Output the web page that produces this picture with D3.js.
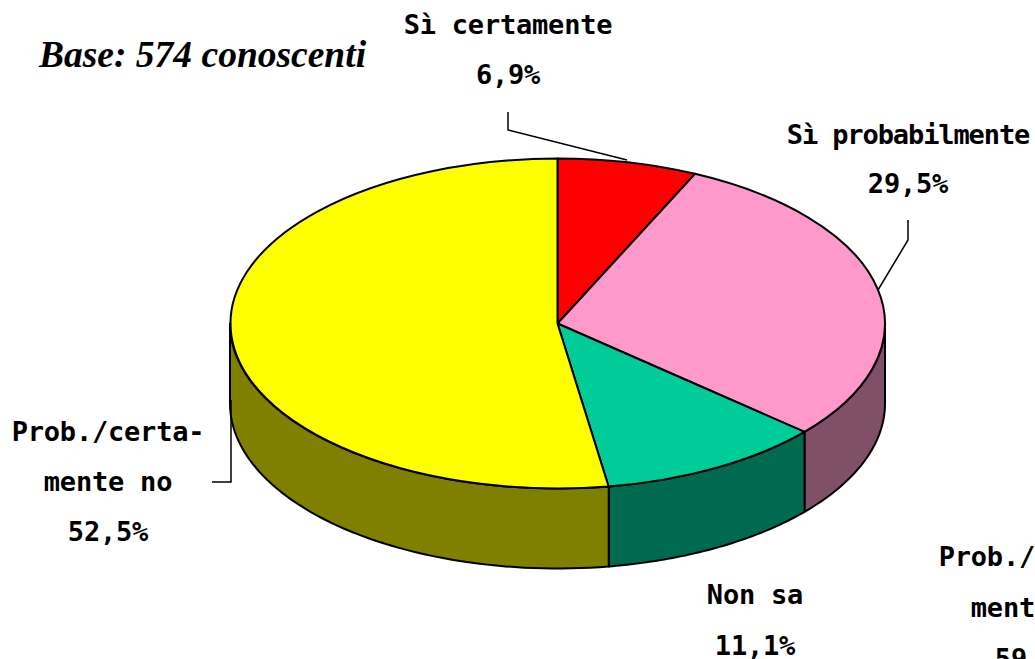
<!DOCTYPE html>
<html><head><meta charset="utf-8">
<script src="https://cdn.jsdelivr.net/npm/d3@7"></script>
<style>html,body{margin:0;padding:0;background:#fff;overflow:hidden}
text{font-family:"DejaVu Sans Mono",monospace;font-weight:700;font-size:27px;letter-spacing:-0.2px;fill:#000;text-anchor:middle}
</style></head><body><svg id="c" width="1035" height="659"></svg>
<script>
const categories=["Sì certamente","Sì probabilmente","Non sa","Prob./certamente no"];
const values=[6.9,29.5,11.1,52.5];
const topColors=["#ff0000","#ff99cc","#00cc99","#ffff00"];
const sideColors=["#800000","#804f68","#006a50","#808000"];
const labels=[
 {lines:["Sì certamente","6,9%"],x:508,y:[34,84]},
 {lines:["Sì probabilmente","29,5%"],x:908,y:[144,193],tight:[true,false]},
 {lines:["Non sa","11,1%"],x:755,y:[604,655]},
 {lines:["Prob./certa-","mente no","52,5%"],x:108,y:[441,491,541]},
 {lines:["Prob./certa-","mente no","59,0%"],x:1035,y:[566,617,668]}
];
const leaders=[
 [[508,112],[508,130],[627,160]],
 [[908,220],[908,240],[878,290]],
 [[212,482],[231,482],[231,400]]
];
const cx=557.5,cy=323.5,rx=327.5,ry=165,depth=80;
const svg=d3.select("#c");
const pts=d3.pie().sort(null).value(d=>d)(values);
const px=a=>cx+rx*Math.sin(a), py=a=>cy-ry*Math.cos(a);
const line=d3.line();
pts.forEach((p,i)=>{
  const a0=Math.max(p.startAngle,Math.PI/2), a1=Math.min(p.endAngle,Math.PI*1.5);
  if(a1<=a0) return;
  const n=60, s=d3.scaleLinear().domain([0,n]).range([a0,a1]);
  const t=d3.range(n+1).map(s);
  const poly=t.map(a=>[px(a),py(a)]).concat(t.slice().reverse().map(a=>[px(a),py(a)+depth]));
  svg.append("path").attr("d",line(poly)+"Z").attr("fill",sideColors[i]).attr("stroke","#000").attr("stroke-width",2).attr("stroke-linejoin","round");
});
const arc=d3.arc().innerRadius(0).outerRadius(1);
const g=svg.append("g").attr("transform",`translate(${cx},${cy}) scale(${rx},${ry})`);
g.selectAll("path").data(pts).join("path").attr("d",arc)
 .attr("fill",(d,i)=>topColors[i]).attr("stroke","#000").attr("stroke-width",2)
 .attr("vector-effect","non-scaling-stroke").attr("stroke-linejoin","round");
leaders.forEach(l=>svg.append("path").attr("d",line(l)).attr("fill","none").attr("stroke","#000").attr("stroke-width",1.5));
labels.forEach(l=>l.lines.forEach((t,i)=>{
  const e=svg.append("text").attr("x",l.x).attr("y",l.y[i]).text(t);
  if(l.tight&&l.tight[i]) e.style("letter-spacing","-1.1px");
}));
svg.append("text").attr("x",39).attr("y",67).text("Base: 574 conoscenti")
 .style("font-family","'Liberation Serif',serif").style("font-style","italic").style("font-size","37.5px").style("letter-spacing","0").style("text-anchor","start");
</script></body></html>
